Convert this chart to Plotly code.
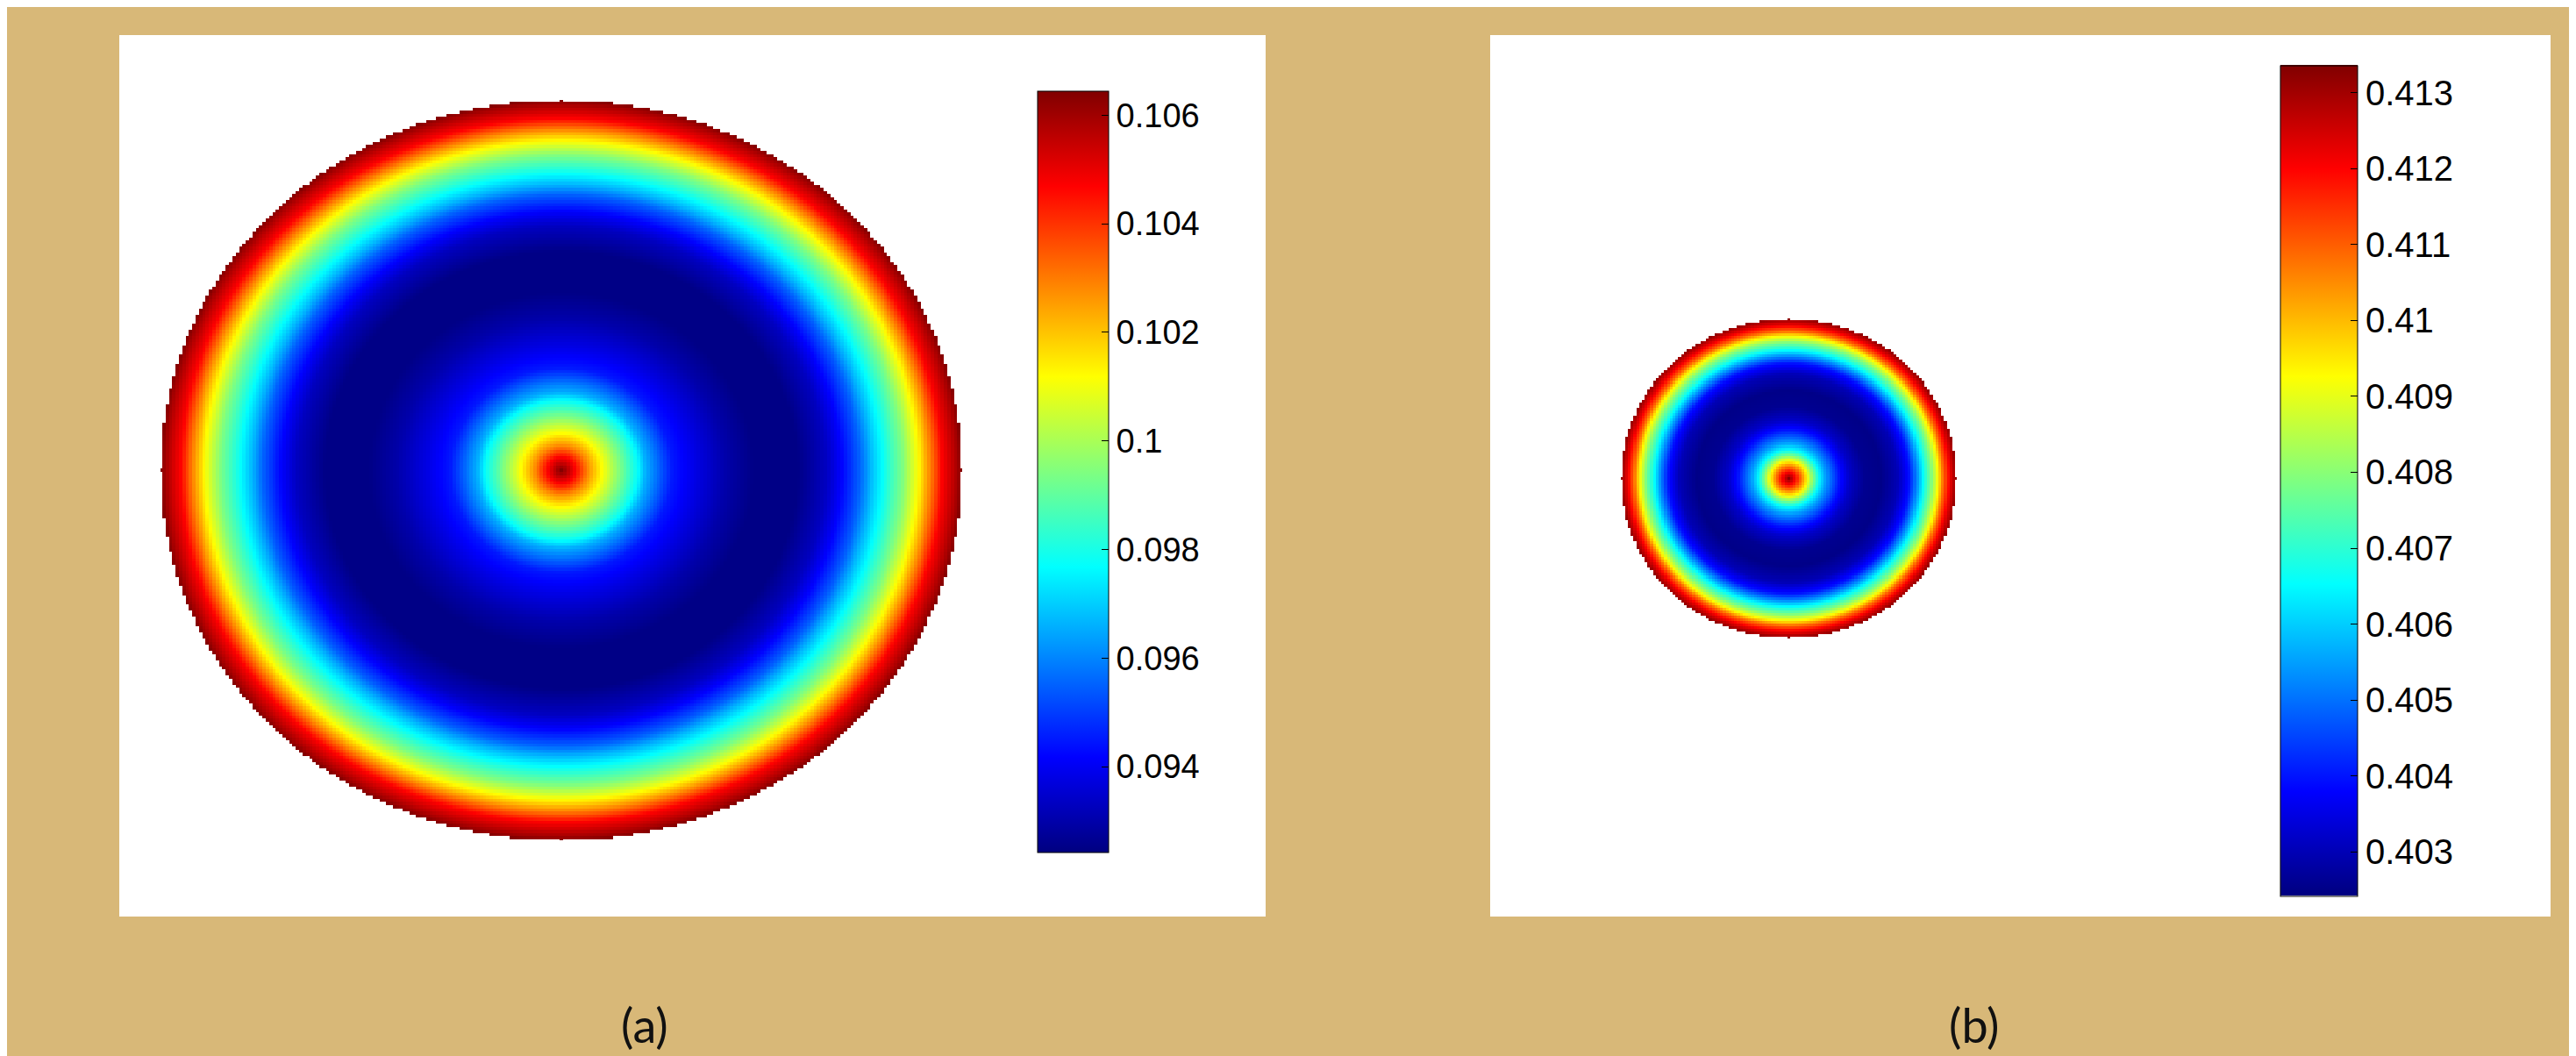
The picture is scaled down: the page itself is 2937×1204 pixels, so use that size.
import numpy as np
import plotly.graph_objects as go

W, H = 2937, 1204

# ---- data: radial profiles (normalised radius -> value) ----
radius_a = [0.0, 0.035, 0.064, 0.10, 0.145, 0.19, 0.21, 0.276, 0.335, 0.41, 0.48, 0.59,
            0.66, 0.70, 0.744, 0.77, 0.80, 0.85, 0.89, 0.92, 0.95, 0.99, 1.0]
values_a = [0.1064, 0.1047, 0.1029, 0.1012, 0.0994, 0.0977, 0.0966, 0.0945, 0.0938, 0.0930,
            0.0925, 0.0925, 0.0933, 0.0942, 0.0955, 0.0966, 0.0977, 0.0994, 0.1012, 0.1029,
            0.1047, 0.1060, 0.1064]

radius_b = [0.0, 0.04, 0.08, 0.11, 0.14, 0.18, 0.22, 0.30, 0.36, 0.45, 0.55, 0.65,
            0.72, 0.77, 0.80, 0.85, 0.89, 0.92, 0.96, 1.0]
values_b = [0.4133, 0.4120, 0.4105, 0.4093, 0.4080, 0.4065, 0.4055, 0.4040, 0.4032, 0.4026,
            0.4025, 0.4030, 0.4040, 0.4055, 0.4065, 0.4079, 0.4093, 0.4108, 0.4122, 0.4132]

range_a = [0.09242, 0.10644]
range_b = [0.40242, 0.41336]
ticks_a = [0.094, 0.096, 0.098, 0.100, 0.102, 0.104, 0.106]
ticklabels_a = ["0.094", "0.096", "0.098", "0.1", "0.102", "0.104", "0.106"]
ticks_b = [0.403, 0.404, 0.405, 0.406, 0.407, 0.408, 0.409, 0.410, 0.411, 0.412, 0.413]
ticklabels_b = ["0.403", "0.404", "0.405", "0.406", "0.407", "0.408", "0.409", "0.41",
                "0.411", "0.412", "0.413"]
captions = ["(a)", "(b)"]

# MATLAB jet colormap
jet = [[0.0, "rgb(0,0,128)"], [0.125, "rgb(0,0,255)"], [0.375, "rgb(0,255,255)"],
       [0.625, "rgb(255,255,0)"], [0.875, "rgb(255,0,0)"], [1.0, "rgb(128,0,0)"]]


def disk_grid(radius, values, n=241):
    g = np.linspace(-1, 1, n)
    X, Y = np.meshgrid(g, g)
    R = np.sqrt(X ** 2 + Y ** 2)
    Z = np.interp(R, radius, values)
    Z[R > 1.0] = np.nan
    return g, Z


def px(x):
    return x / W


def py(y):
    return 1 - y / H


fig = go.Figure()

ga, Za = disk_grid(radius_a, values_a, 241)
gb, Zb = disk_grid(radius_b, values_b, 121)

cb_font = dict(family="Liberation Sans, Arial, sans-serif", size=38, color="black")

fig.add_trace(go.Heatmap(
    x=ga, y=ga, z=Za, colorscale=jet, zmin=range_a[0], zmax=range_a[1], zsmooth=False,
    hoverinfo="skip", xaxis="x", yaxis="y",
    colorbar=dict(x=px(1175), xanchor="left", y=py(530), yanchor="middle",
                  thickness=81, thicknessmode="pixels", len=868, lenmode="pixels",
                  xpad=0, ypad=0, outlinecolor="black", outlinewidth=1,
                  tickvals=ticks_a, ticktext=ticklabels_a, ticks="inside", ticklen=8,
                  tickcolor="black", tickfont=cb_font),
))
fig.add_trace(go.Heatmap(
    x=gb, y=gb, z=Zb, colorscale=jet, zmin=range_b[0], zmax=range_b[1], zsmooth=False,
    hoverinfo="skip", xaxis="x2", yaxis="y2",
    colorbar=dict(x=px(2592), xanchor="left", y=py(540), yanchor="middle",
                  thickness=88, thicknessmode="pixels", len=947, lenmode="pixels",
                  xpad=0, ypad=0, outlinecolor="black", outlinewidth=1,
                  tickvals=ticks_b, ticktext=ticklabels_b, ticks="inside", ticklen=8,
                  tickcolor="black", tickfont=dict(cb_font, size=40)),
))

ax_common = dict(visible=False, showgrid=False, zeroline=False, fixedrange=True)
cap_font = dict(family="Lato, Open Sans, sans-serif", size=54, color="#111111")
fig.update_layout(
    width=W, height=H, margin=dict(l=0, r=0, t=0, b=0),
    paper_bgcolor="#D8B878", plot_bgcolor="rgba(0,0,0,0)",
    xaxis=dict(ax_common, domain=[px(175), px(1089)], range=[-1, 1]),
    yaxis=dict(ax_common, domain=[py(950), py(106)], range=[-1, 1]),
    xaxis2=dict(ax_common, domain=[px(1840), px(2223)], range=[-1, 1]),
    yaxis2=dict(ax_common, domain=[py(720), py(355)], range=[-1, 1]),
    shapes=[
        dict(type="rect", xref="paper", yref="paper", x0=px(128), x1=px(1435),
             y0=py(1037), y1=py(32), fillcolor="white", line=dict(width=0), layer="below"),
        dict(type="rect", xref="paper", yref="paper", x0=px(1691), x1=px(2900),
             y0=py(1037), y1=py(32), fillcolor="white", line=dict(width=0), layer="below"),
    ],
    annotations=[
        dict(text=captions[0], x=px(727), y=py(1160), xref="paper", yref="paper",
             showarrow=False, xanchor="center", yanchor="middle", font=cap_font),
        dict(text=captions[1], x=px(2243), y=py(1160), xref="paper", yref="paper",
             showarrow=False, xanchor="center", yanchor="middle", font=cap_font),
    ],
)

fig.write_html("out.html")
